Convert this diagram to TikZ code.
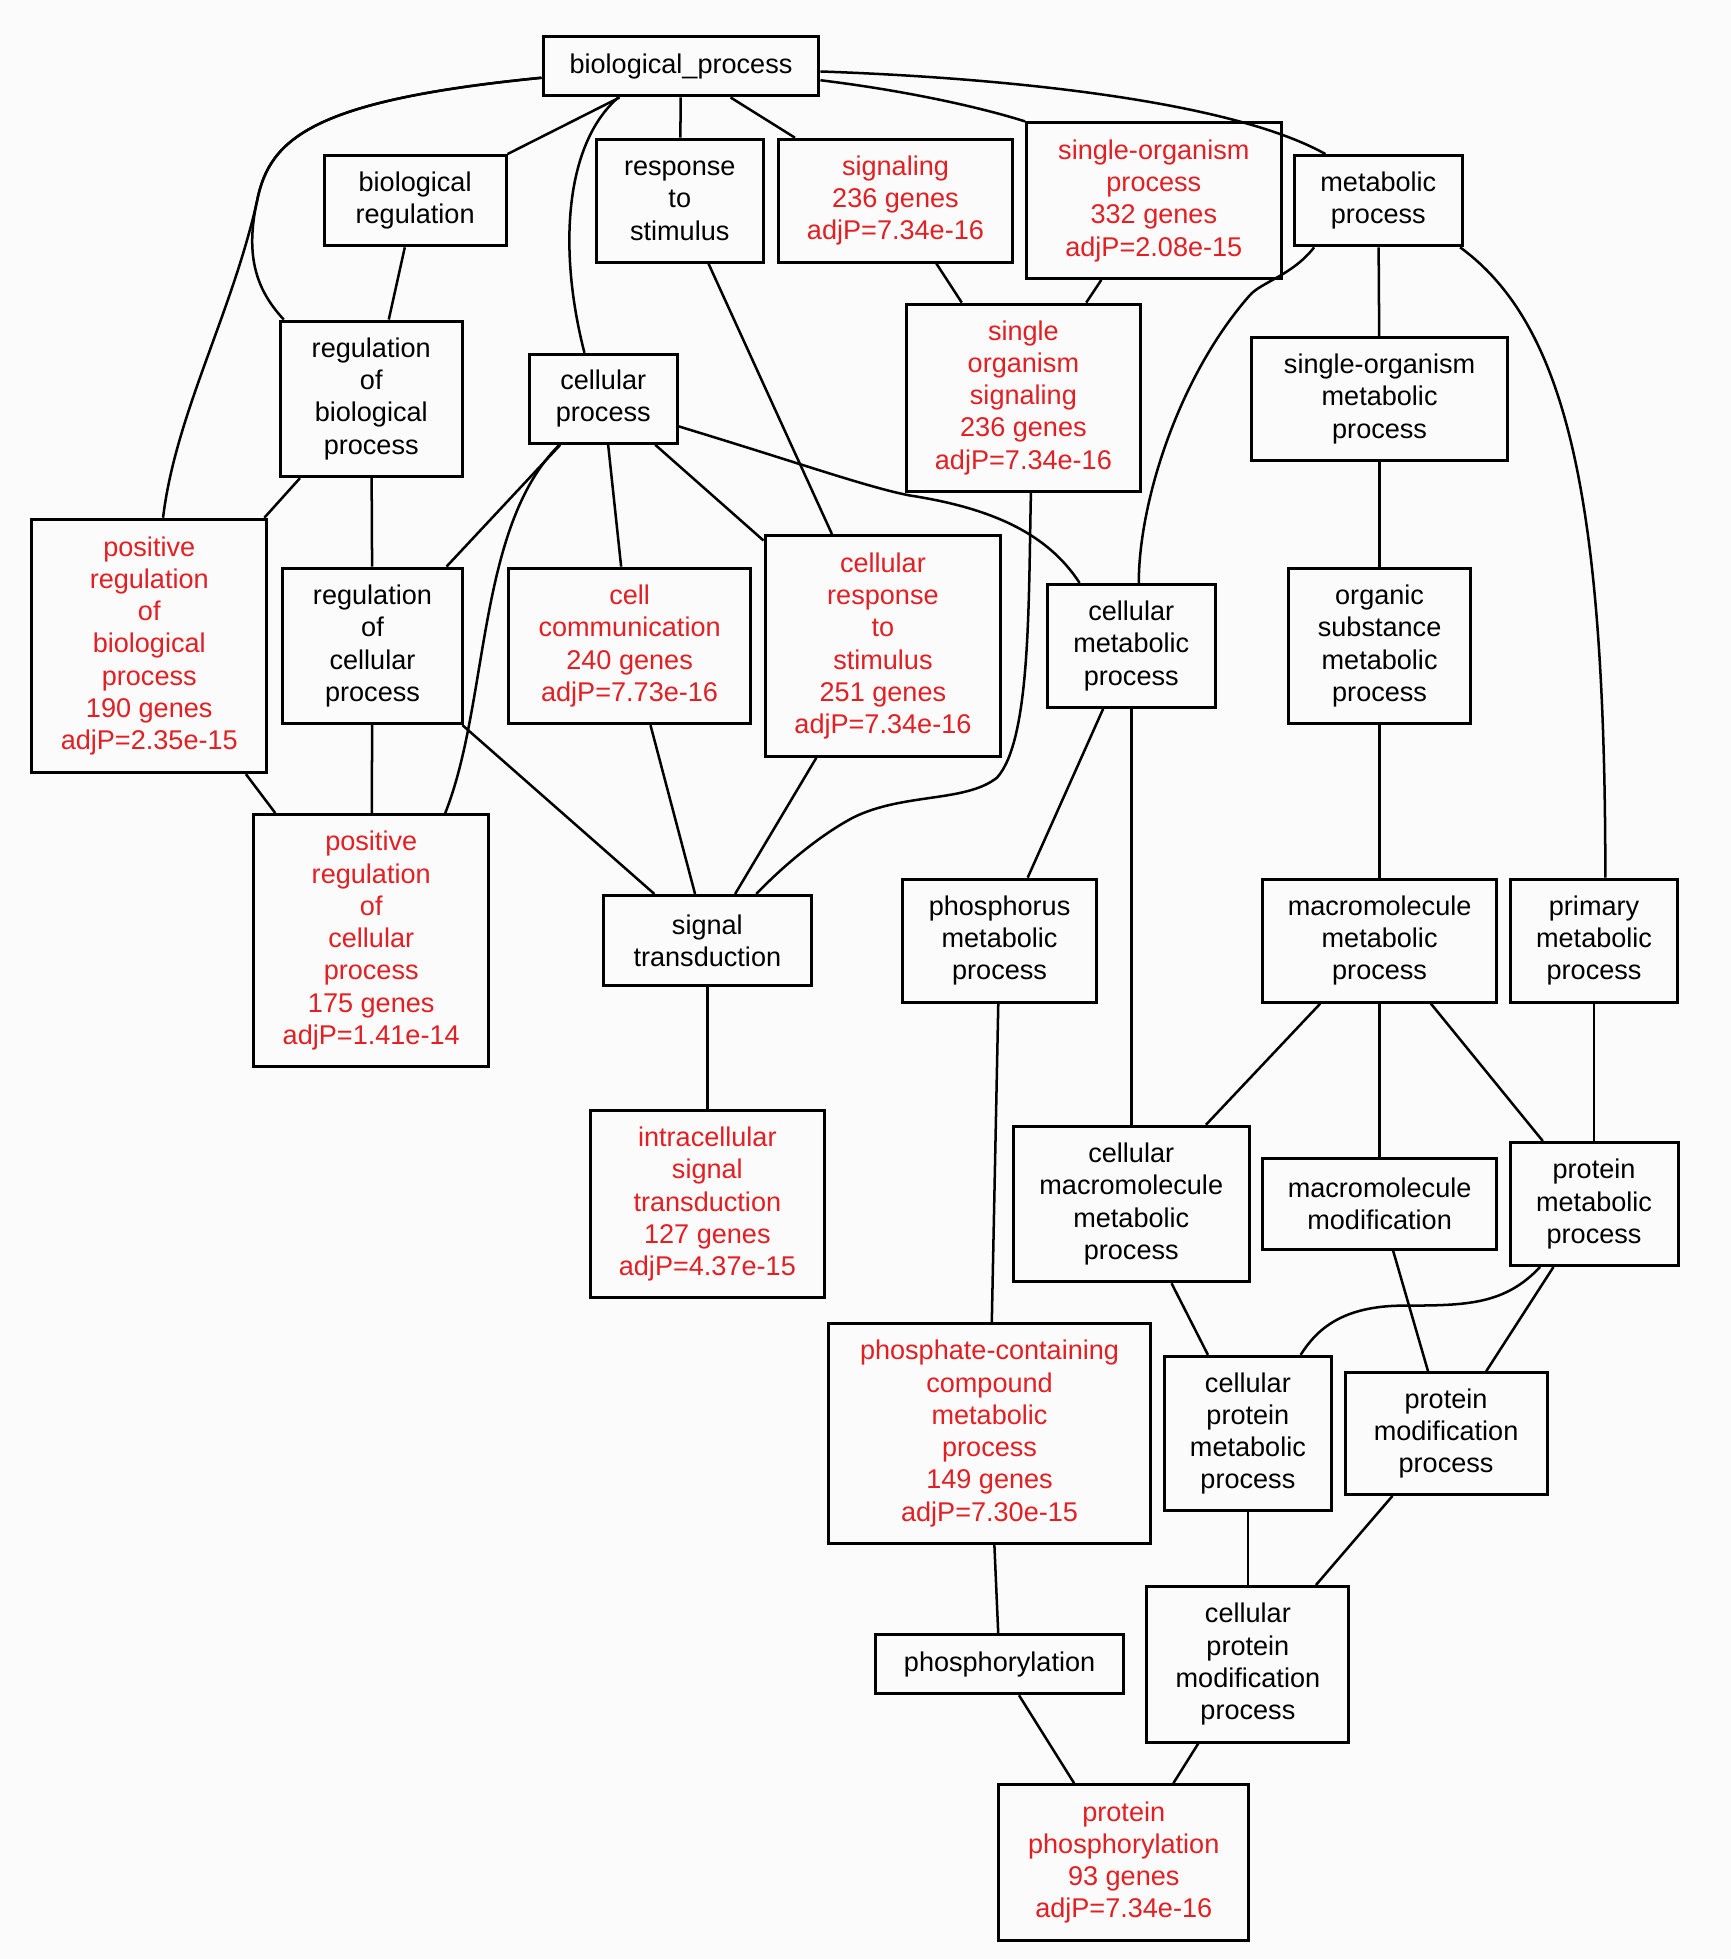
\documentclass[tikz,border=0pt]{standalone}
\usepackage{fontspec}
\setmainfont{Liberation Sans}
\usetikzlibrary{calc}
\definecolor{gored}{RGB}{226,32,36}
\definecolor{gobg}{RGB}{250,251,250}
\tikzset{
  box/.style={draw=black, line width=1.2pt, fill=gobg, align=center, inner sep=0pt,
              font=\fontsize{10.8}{12.85}\selectfont},
  hit/.style={text=gored},
  link/.style={line width=1pt, draw=black}}
\begin{document}
\begin{tikzpicture}[x=0.5pt,y=-0.5pt]
\fill[gobg] (0,0) rectangle (1380,1562);
\useasboundingbox (0,0) rectangle (1380,1562);

% nodes
\node[box,minimum width=110pt,minimum height=23.5pt] (bp) at (543,53) {biological\_process};
\node[box,minimum width=72.5pt,minimum height=36pt] (bioreg) at (331,160) {biological\\regulation};
\node[box,minimum width=66.5pt,minimum height=49pt] (resp) at (542,160) {response\\to\\stimulus};
\node[box,hit,minimum width=93.5pt,minimum height=49pt] (sig) at (714,160) {signaling\\236 genes\\adjP=7.34e-16};
\node[box,hit,minimum width=101.5pt,minimum height=62pt] (sop) at (920,160) {single-organism\\process\\332 genes\\adjP=2.08e-15};
\node[box,minimum width=67pt,minimum height=36pt] (met) at (1099,160) {metabolic\\process};
\node[box,minimum width=72.5pt,minimum height=62pt] (regbio) at (296,318) {regulation\\of\\biological\\process};
\node[box,minimum width=59pt,minimum height=35.5pt] (cellproc) at (481,318) {cellular\\process};
\node[box,hit,minimum width=93.5pt,minimum height=74.5pt] (sos) at (816,317) {single\\organism\\signaling\\236 genes\\adjP=7.34e-16};
\node[box,minimum width=102pt,minimum height=49pt] (somp) at (1100,318) {single-organism\\metabolic\\process};
\node[box,hit,minimum width=93.5pt,minimum height=101pt] (posregbio) at (119,515) {positive\\regulation\\of\\biological\\process\\190 genes\\adjP=2.35e-15};
\node[box,minimum width=72pt,minimum height=62pt] (regcell) at (297,515) {regulation\\of\\cellular\\process};
\node[box,hit,minimum width=96.5pt,minimum height=62pt] (cellcomm) at (502,515) {cell\\communication\\240 genes\\adjP=7.73e-16};
\node[box,hit,minimum width=94pt,minimum height=88pt] (cellresp) at (704,515) {cellular\\response\\to\\stimulus\\251 genes\\adjP=7.34e-16};
\node[box,minimum width=67pt,minimum height=49pt] (cellmet) at (902,515) {cellular\\metabolic\\process};
\node[box,minimum width=72.5pt,minimum height=62pt] (organic) at (1100,515) {organic\\substance\\metabolic\\process};
\node[box,hit,minimum width=93.5pt,minimum height=100.5pt] (posregcell) at (296,750) {positive\\regulation\\of\\cellular\\process\\175 genes\\adjP=1.41e-14};
\node[box,minimum width=83pt,minimum height=36pt] (sigtrans) at (564,750) {signal\\transduction};
\node[box,minimum width=77.5pt,minimum height=49pt] (phosphorus) at (797,750) {phosphorus\\metabolic\\process};
\node[box,minimum width=93.5pt,minimum height=49pt] (macromet) at (1100,750) {macromolecule\\metabolic\\process};
\node[box,minimum width=66.5pt,minimum height=49pt] (primary) at (1271,750) {primary\\metabolic\\process};
\node[box,hit,minimum width=93.5pt,minimum height=74.5pt] (intra) at (564,960) {intracellular\\signal\\transduction\\127 genes\\adjP=4.37e-15};
\node[box,minimum width=94pt,minimum height=62pt] (cmmp) at (902,960) {cellular\\macromolecule\\metabolic\\process};
\node[box,minimum width=93.5pt,minimum height=36pt] (macromod) at (1100,960) {macromolecule\\modification};
\node[box,minimum width=67pt,minimum height=49pt] (protmet) at (1271,960) {protein\\metabolic\\process};
\node[box,hit,minimum width=128.5pt,minimum height=87.5pt] (phosphate) at (789,1143) {phosphate-containing\\compound\\metabolic\\process\\149 genes\\adjP=7.30e-15};
\node[box,minimum width=66.5pt,minimum height=61.5pt] (cpmp) at (995,1143) {cellular\\protein\\metabolic\\process};
\node[box,minimum width=80.5pt,minimum height=48.5pt] (pmp) at (1153,1143) {protein\\modification\\process};
\node[box,minimum width=99pt,minimum height=23.5pt] (phosphoryl) at (797,1327) {phosphorylation};
\node[box,minimum width=80.5pt,minimum height=62pt] (cpmodp) at (995,1327) {cellular\\protein\\modification\\process};
\node[box,hit,minimum width=99.5pt,minimum height=62pt] (protphos) at (896,1485) {protein\\phosphorylation\\93 genes\\adjP=7.34e-16};

% straight connectors
\draw[link] (bp) -- (bioreg);
\draw[link] (bp) -- (resp);
\draw[link] (bp) -- (sig);
\draw[link] (bioreg) -- (regbio);
\draw[link] (resp) -- (cellresp);
\draw[link] (sig) -- (sos);
\draw[link] (sop) -- (sos);
\draw[link] (met) -- (somp);
\draw[link] (regbio) -- (posregbio);
\draw[link] (regbio) -- (regcell);
\draw[link] (cellproc) -- (regcell);
\draw[link] (cellproc) -- (cellcomm);
\draw[link] (cellproc) -- (cellresp);
\draw[link] (regcell) -- (sigtrans);
\draw[link] (cellcomm) -- (sigtrans);
\draw[link] (cellresp) -- (sigtrans);
\draw[link] (regcell) -- (posregcell);
\draw[link] (posregbio) -- (posregcell);
\draw[link] (sigtrans) -- (intra);
\draw[link] (cellmet) -- (phosphorus);
\draw[link] (cellmet) -- (cmmp);
\draw[link] (somp) -- (organic);
\draw[link] (organic) -- (macromet);
\draw[link] (macromet) -- (cmmp);
\draw[link] (macromet) -- (macromod);
\draw[link] (macromet) -- (protmet);
\draw[link] (primary) -- (protmet);
\draw[link] (phosphorus) -- (phosphate);
\draw[link] (cmmp) -- (cpmp);
\draw[link] (protmet) -- (pmp);
\draw[link] (macromod) -- (pmp);
\draw[link] (phosphate) -- (phosphoryl);
\draw[link] (cpmp) -- (cpmodp);
\draw[link] (pmp) -- (cpmodp);
\draw[link] (phosphoryl) -- (protphos);
\draw[link] (cpmodp) -- (protphos);

% curved connectors
\draw[link] ($(bp.west)+(0,9)$) .. controls (250,80) and (215,110) .. (205,160)
  .. controls (185,250) and (140,330) .. ($(posregbio.north)+(11,0)$);
\draw[link] ($(bp.west)+(0,9)$) .. controls (250,80) and (215,110) .. (205,160)
  .. controls (195,205) and (205,232) .. ($(regbio.north west)+(4,0)$);
\draw[link] ($(bp.south)+(-50,0)$) .. controls (450,115) and (445,200) .. ($(cellproc.north)+(-15,0)$);
\draw[link] ($(bp.east)+(0,11)$) .. controls (720,72) and (780,85) .. (sop.north west);
\draw[link] ($(bp.east)+(0,4)$) .. controls (800,62) and (980,80) .. ($(met.north west)+(26,0)$);
\draw[link] ($(met.south west)+(17,0)$) .. controls (1030,220) and (1005,225) .. (996,236)
  .. controls (940,300) and (908,400) .. ($(cellmet.north)+(6,0)$);
\draw[link] ($(met.south east)+(-3,0)$) .. controls (1250,260) and (1280,400) .. ($(primary.north)+(9,0)$);
\draw[link] ($(cellproc.south)+(-35,0)$) .. controls (380,420) and (390,560) .. ($(posregcell.north)+(59,0)$);
\draw[link] ($(cellproc.east)+(0,22)$) .. controls (640,370) and (690,388) .. (725,395)
  .. controls (790,405) and (835,425) .. ($(cellmet.north west)+(27,0)$);
\draw[link] ($(sos.south)+(6,0)$) .. controls (820,480) and (822,590) .. (795,620)
  .. controls (770,640) and (720,632) .. (680,652)
  .. controls (650,668) and (620,695) .. ($(sigtrans.north)+(39,0)$);
\draw[link] ($(protmet.south)+(-43,0)$) .. controls (1200,1040) and (1170,1041) .. (1120,1041)
  .. controls (1070,1041) and (1050,1060) .. ($(cpmp.north)+(42,0)$);
\end{tikzpicture}
\end{document}
